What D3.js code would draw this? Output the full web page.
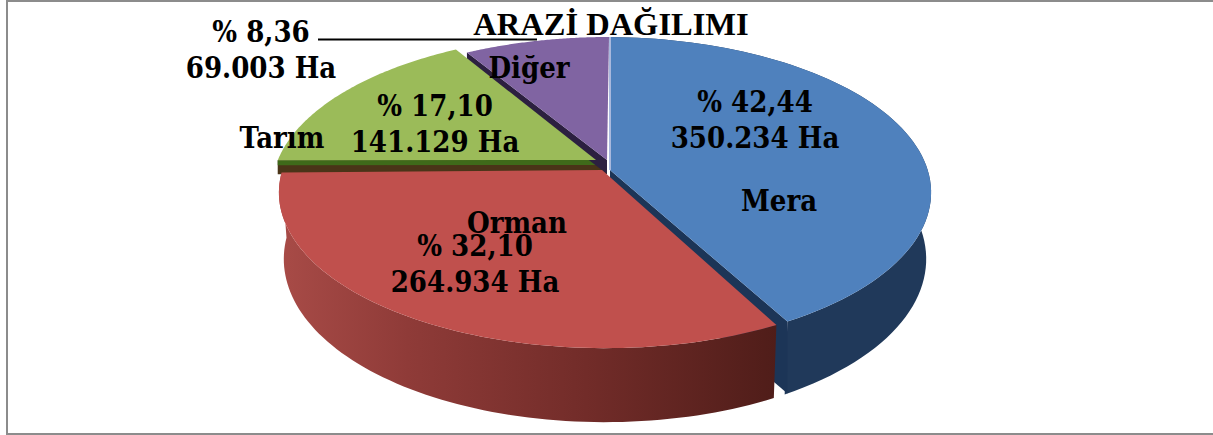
<!DOCTYPE html>
<html>
<head>
<meta charset="utf-8">
<script src="https://cdn.jsdelivr.net/npm/d3@7"></script>
<style>
  html, body { margin: 0; padding: 0; background: #fff; }
  svg { display: block; }
  text { font-weight: bold; fill: #000; text-anchor: middle; }
  .lbl { font-family: "DejaVu Serif Condensed", "DejaVu Serif", serif; font-stretch: condensed; font-size: 29px; }
  .ttl { font-family: "Liberation Serif", serif; font-size: 32.5px; }
</style>
</head>
<body>
<script>
'use strict';

const categories = ['Mera', 'Orman', 'Tarım', 'Diğer'];
const hectares = [350234, 264934, 141129, 69003];
const percentLabels = ['% 42,44', '% 32,10', '% 17,10', '% 8,36'];
const hectareLabels = ['350.234 Ha', '264.934 Ha', '141.129 Ha', '69.003 Ha'];
const topColors = ['#4f81bd', '#c0504d', '#9bbb59', '#8064a2'];
const title = 'ARAZİ DAĞILIMI';

const width = 1213, height = 435;

// perspective of the pie plane, fitted by eye against the reference
const cx = 605, cy = 168, R = 322, ry = 151.7, persp = 0.158, depth = 65;

// each slice is pulled a little away from the others
const rimShift = [[0, 0], [0, 0], [-7, -3], [4, 0]];
const apex = [[610, 170], [602, 170], [596, 160], [607, 160]];
// radians cut off each slice's start and end, leaves the gaps between slices
const trim = [[0.018, 0.035], [0, 0], [0.06, 0], [0, 0]];

function project(theta, shift, lower) {
  const u = Math.sin(theta), v = Math.cos(theta);
  const s = 1 / (1 + persp * v) * (lower ? 0.985 : 1);
  return [cx + shift[0] + R * u * s, cy + shift[1] - ry * v * s + (lower ? depth * (1 - 0.18 * v) : 0)];
}

const arcs = d3.pie().sort(null)(hectares).map((a, i) => ({
  startAngle: a.startAngle + trim[i][0],
  endAngle: a.endAngle - trim[i][1]
}));
const line = d3.line();

function rim(a, i, lower) {
  const n = 80;
  return d3.range(n + 1).map(k => project(a.startAngle + (a.endAngle - a.startAngle) * k / n, rimShift[i], lower));
}

const svg = d3.select('body').append('svg')
  .attr('width', width)
  .attr('height', height);

// frame of the chart area: no line on the right
svg.append('path')
  .attr('d', line([[width, 1], [7, 1], [7, 434], [width, 434]]))
  .attr('fill', 'none')
  .attr('stroke', '#8c8c8c')
  .attr('stroke-width', 2);

const defs = svg.append('defs');
function sideGradient(id, stops) {
  const g = defs.append('linearGradient')
    .attr('id', id)
    .attr('gradientUnits', 'userSpaceOnUse')
    .attr('x1', 280).attr('x2', 790).attr('y1', 0).attr('y2', 0);
  stops.forEach(s => g.append('stop').attr('offset', s[0]).attr('stop-color', s[1]));
}
sideGradient('sideRed', [[0, '#a84b47'], [0.25, '#8f3b38'], [0.6, '#722c29'], [1, '#4d1c18']]);
sideGradient('sideBlue', [[0, '#20395a'], [1, '#20395a']]);

const sideFill = ['url(#sideBlue)', 'url(#sideRed)'];

function outerWall(i) {
  const top = rim(arcs[i], i, false), low = rim(arcs[i], i, true).reverse();
  svg.append('path').attr('d', line(top.concat(low)) + 'Z').attr('fill', sideFill[i]);
}

// wall along one straight cut of a slice, only visible where the neighbour leaves a gap
function cutWall(i, atEnd, color, drop, inner) {
  const a = arcs[i];
  const theta = atEnd ? a.endAngle : a.startAngle;
  const p = project(theta, rimShift[i], false);
  const c = inner || apex[i];
  svg.append('path')
    .attr('d', line([c, p, [p[0], p[1] + drop], [c[0], c[1] + drop]]) + 'Z')
    .attr('fill', color);
}

function topFace(i) {
  svg.append('path')
    .attr('d', line([apex[i]].concat(rim(arcs[i], i, false))) + 'Z')
    .attr('fill', topColors[i]);
}

// painter's order: back slices first
cutWall(2, false, '#4a3418', 14, apex[3]);
cutWall(2, false, '#3f6a1a', 5);
cutWall(3, false, '#2c2040', 14);
topFace(2);
topFace(3);
outerWall(0);
cutWall(0, true, '#1c3557', 72);
outerWall(1);
topFace(1);
topFace(0);

// pale edge where the blue slice meets the purple one
svg.append('path')
  .attr('d', line([apex[0], project(arcs[0].startAngle, rimShift[0], false)]))
  .attr('stroke', '#a9b8dc')
  .attr('stroke-width', 2);

// leader line of the smallest slice
svg.append('line')
  .attr('x1', 318).attr('x2', 537)
  .attr('y1', 39.5).attr('y2', 39.5)
  .attr('stroke', '#000')
  .attr('stroke-width', 2);

svg.append('text').attr('class', 'ttl').attr('x', 611).attr('y', 35).text(title);

const pctPos = [[755, 112], [475, 256], [435, 116], [261, 42]];
const haPos = [[755, 148], [475, 292], [435, 152], [261, 78]];
const namePos = [[779, 211], [517, 233], [282, 148], [529, 78]];

categories.forEach((c, i) => {
  svg.append('text').attr('class', 'lbl').attr('x', namePos[i][0]).attr('y', namePos[i][1]).text(c);
  svg.append('text').attr('class', 'lbl').attr('x', pctPos[i][0]).attr('y', pctPos[i][1]).text(percentLabels[i]);
  svg.append('text').attr('class', 'lbl').attr('x', haPos[i][0]).attr('y', haPos[i][1]).text(hectareLabels[i]);
});
</script>
</body>
</html>
